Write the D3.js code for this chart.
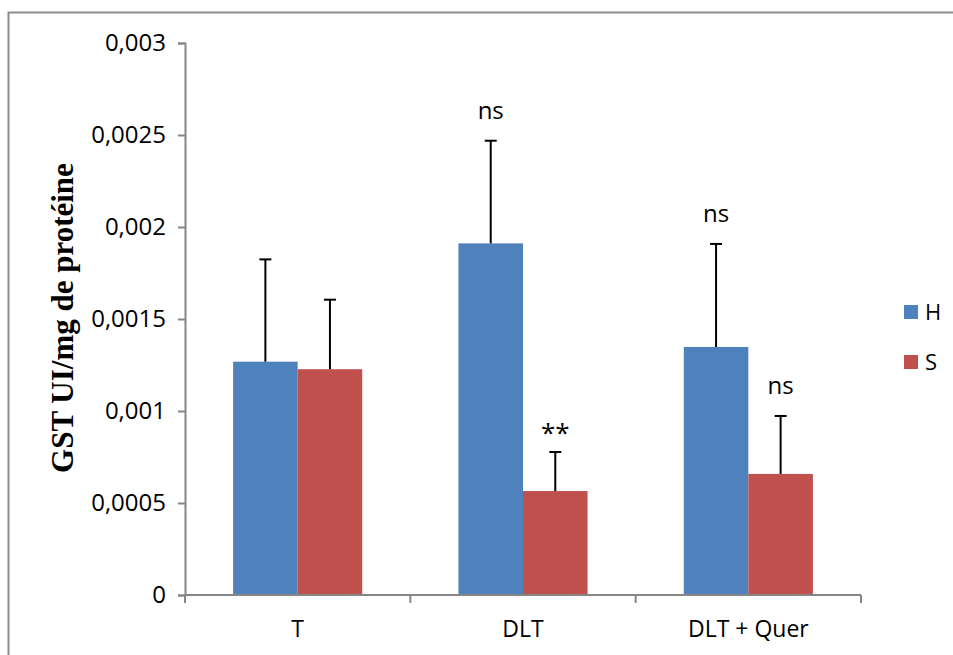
<!DOCTYPE html>
<html>
<head>
<meta charset="utf-8">
<script src="https://cdn.jsdelivr.net/npm/d3@7"></script>
<style>
  html, body { margin: 0; padding: 0; background: #fff; }
  svg { display: block; }
  text { font-family: "Open Sans", "DejaVu Sans", sans-serif; fill: #000; }
</style>
</head>
<body>
<svg id="chart" width="953" height="655"></svg>
<script>
// GST activity (UI/mg protein) per group, for the H and S series
const categories = ["T", "DLT", "DLT + Quer"];
const seriesNames = ["H", "S"];
const seriesColors = ["#4F81BD", "#C0504D"];
const valuesH = [0.001268, 0.001911, 0.001348];
const valuesS = [0.001227, 0.000565, 0.000658];
const errorsH = [0.000556, 0.000558, 0.000560];
const errorsS = [0.000378, 0.000212, 0.000315];
const tickValues = [0, 0.0005, 0.001, 0.0015, 0.002, 0.0025, 0.003];
const tickLabels = ["0", "0,0005", "0,001", "0,0015", "0,002", "0,0025", "0,003"];
// significance marks: [category, series, text]
const marks = [
  ["DLT", "H", "ns"],
  ["DLT", "S", "**"],
  ["DLT + Quer", "H", "ns"],
  ["DLT + Quer", "S", "ns"]
];
const yTitle = "GST UI/mg de protéine";

const svg = d3.select("#chart");
const axisColor = "#868686";

// outer frame (runs off the right and bottom edges)
svg.append("rect")
  .attr("x", 8.5).attr("y", 12.5)
  .attr("width", 1000).attr("height", 700)
  .attr("fill", "none").attr("stroke", "#8c8c8c").attr("stroke-width", 2);

const plot = { left: 185, right: 861, top: 43, bottom: 595 };

const x = d3.scaleBand().domain(categories).range([plot.left, plot.right]).padding(0);
const groupWidth = x.bandwidth() * 0.573;
const xs = d3.scaleBand().domain(seriesNames).range([0, groupWidth]).padding(0);
const y = d3.scaleLinear().domain([0, 0.003]).range([plot.bottom, plot.top]);

const rows = seriesNames.map((s, si) => ({
  name: s,
  color: seriesColors[si],
  values: categories.map((c, ci) => ({
    cat: c,
    series: s,
    value: si === 0 ? valuesH[ci] : valuesS[ci],
    err: si === 0 ? errorsH[ci] : errorsS[ci]
  }))
}));

const barX = d => x(d.cat) + (x.bandwidth() - groupWidth) / 2 + xs(d.series);

// bars
const seriesG = svg.append("g").selectAll("g").data(rows).join("g")
  .attr("fill", d => d.color);
seriesG.selectAll("rect").data(d => d.values).join("rect")
  .attr("x", barX)
  .attr("y", d => y(d.value))
  .attr("width", xs.bandwidth())
  .attr("height", d => y(0) - y(d.value));

// error bars (upper half only)
const allPts = rows.flatMap(r => r.values);
const errG = svg.append("g").attr("stroke", "#000").attr("stroke-width", 2);
errG.selectAll("line.v").data(allPts).join("line").attr("class", "v")
  .attr("x1", d => barX(d) + xs.bandwidth() / 2)
  .attr("x2", d => barX(d) + xs.bandwidth() / 2)
  .attr("y1", d => y(d.value))
  .attr("y2", d => y(d.value + d.err));
errG.selectAll("line.cap").data(allPts).join("line").attr("class", "cap")
  .attr("x1", d => barX(d) + xs.bandwidth() / 2 - 6)
  .attr("x2", d => barX(d) + xs.bandwidth() / 2 + 6)
  .attr("y1", d => y(d.value + d.err))
  .attr("y2", d => y(d.value + d.err));

// y axis
const yAxis = svg.append("g")
  .attr("transform", `translate(${plot.left},0)`)
  .call(d3.axisLeft(y).tickValues(tickValues)
    .tickFormat((d, i) => tickLabels[i]).tickSize(7).tickPadding(12));
yAxis.select(".domain").attr("stroke", axisColor).attr("stroke-width", 2);
yAxis.selectAll(".tick line").attr("stroke", axisColor).attr("stroke-width", 2);
yAxis.selectAll(".tick text").attr("font-size", 24)
  .style("font-family", "'Open Sans', sans-serif");

// x axis with ticks on category boundaries
const xAxisG = svg.append("g").attr("transform", `translate(0,${plot.bottom})`);
xAxisG.append("line")
  .attr("x1", plot.left).attr("x2", plot.right)
  .attr("stroke", axisColor).attr("stroke-width", 2);
const bounds = categories.map(c => x(c)).concat([plot.right]);
xAxisG.selectAll("line.b").data(bounds).join("line").attr("class", "b")
  .attr("x1", d => d).attr("x2", d => d)
  .attr("y1", 0).attr("y2", 8)
  .attr("stroke", axisColor).attr("stroke-width", 2);
xAxisG.selectAll("text").data(categories).join("text")
  .attr("x", d => x(d) + x.bandwidth() / 2)
  .attr("y", 42)
  .attr("text-anchor", "middle")
  .attr("font-size", 23)
  .text(d => d);

// y axis title
svg.append("text")
  .attr("transform", "translate(73,318) rotate(-90)")
  .attr("text-anchor", "middle")
  .style("font-family", "'Liberation Serif', 'Times New Roman', serif")
  .attr("font-weight", "bold")
  .attr("font-size", 31)
  .text(yTitle);

// significance marks
const markG = svg.append("g");
marks.forEach(([c, s, t]) => {
  const d = allPts.find(p => p.cat === c && p.series === s);
  markG.append("text")
    .attr("x", barX(d) + xs.bandwidth() / 2)
    .attr("y", y(d.value + d.err) - (t === "**" ? 10 : 22))
    .attr("text-anchor", "middle")
    .attr("font-size", t === "**" ? 26 : 24)
    .text(t);
});

// legend
const legend = svg.append("g").attr("transform", "translate(904,305)");
seriesNames.forEach((s, i) => {
  const g = legend.append("g").attr("transform", `translate(0,${i * 50})`);
  g.append("rect").attr("width", 14).attr("height", 14).attr("fill", seriesColors[i]);
  g.append("text").attr("x", 21).attr("y", 15).attr("font-size", 22).text(s);
});
</script>
</body>
</html>
